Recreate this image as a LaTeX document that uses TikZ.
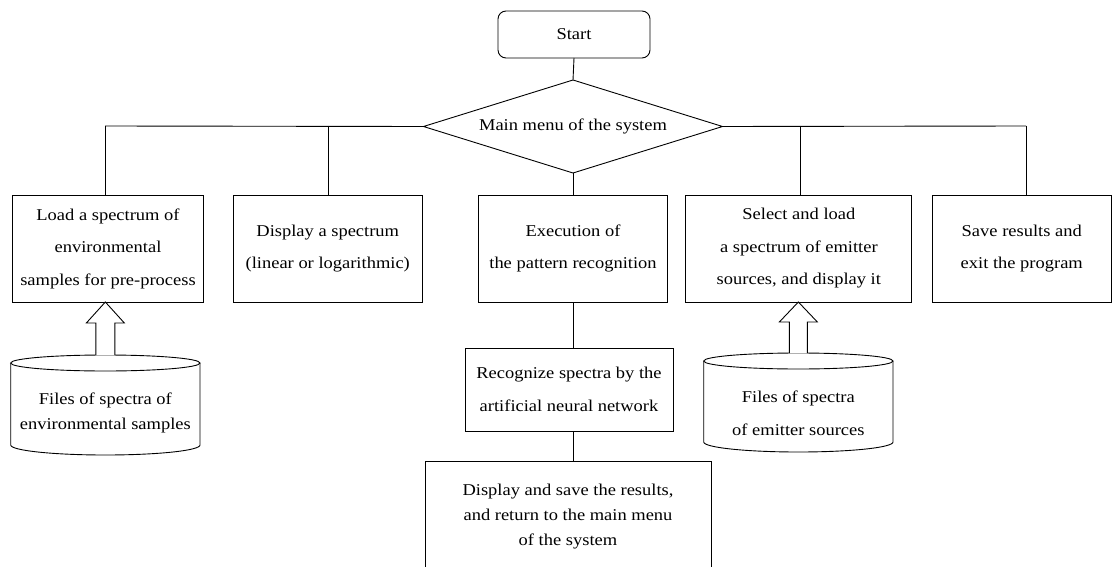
\documentclass[tikz,border=0pt]{standalone}
\usepackage{fontspec}
\setmainfont{Liberation Serif}[FakeStretch=1.12]
\usetikzlibrary{shapes.geometric,calc}
\begin{document}
\begin{tikzpicture}[x=1pt,y=-1pt,line width=0.9pt,
  every node/.style={inner sep=0pt,outer sep=0pt},
  txt/.style={font=\fontsize{16.5pt}{32.5pt}\selectfont,align=center},
  txtb/.style={font=\fontsize{16.5pt}{25pt}\selectfont,align=center},
  procbox/.style={draw,rectangle,txt,minimum height=107pt},
  startbox/.style={draw,rectangle,rounded corners=8pt,txt,minimum width=152pt,minimum height=47pt},
  menubox/.style={draw,diamond,aspect=3.2,txt,minimum width=299pt,minimum height=93pt},
  blockarrow/.style={draw,fill=white,line join=miter}]
\useasboundingbox (0,0) rectangle (1113,567);
\fill[white] (0,0) rectangle (1113,567);
\clip (0,0) rectangle (1113,567);

% nodes
\node[startbox] (start) at (574,34.5) {Start};
\node[menubox] (menu) at (573,126.5) {Main menu of the system};

\node[procbox,minimum width=191pt] (box1) at (108,248.5) {Load a spectrum of\\environmental\\samples for pre-process};
\node[procbox,minimum width=189.5pt] (box2) at (327.75,248.5) {Display a spectrum\\(linear or logarithmic)};
\node[procbox,minimum width=189pt] (box3) at (573,248.5) {Execution of\\the pattern recognition};
\node[procbox,minimum width=226pt] (box4) at (798.85,248.5) {Select and load\\a spectrum of emitter\\sources, and display it};
\node[procbox,minimum width=179.5pt] (box5) at (1021.75,248.5) {Save results and\\exit the program};

\node[draw,rectangle,txt,minimum width=208pt,minimum height=83pt] (box6) at (569,389.5) {Recognize spectra by the\\artificial neural network};
\node[draw,rectangle,txtb,minimum width=286pt,minimum height=112pt] (box7) at (568,517) {Display and save the results,\\and return to the main menu\\of the system};

% databases (cylinders)
\draw (10.7,363) -- (10.7,445) arc[start angle=180,end angle=0,x radius=94.65,y radius=10] -- (200,363);
\draw (105.35,363) ellipse[x radius=94.65,y radius=8];
\coordinate (c1top) at (105.35,355);
\node[txtb] (cyl1) at (105.35,412.5) {Files of spectra of\\environmental samples};

\draw (703.7,361) -- (703.7,442) arc[start angle=180,end angle=0,x radius=94.65,y radius=10] -- (893,361);
\draw (798.35,361) ellipse[x radius=94.65,y radius=8];
\coordinate (c2top) at (798.35,353);
\node[font=\fontsize{16.5pt}{33pt}\selectfont,align=center] (cyl2) at (798.35,413.5) {Files of spectra\\of emitter sources};

% bus taps
\coordinate (t1) at (105,126);
\coordinate (t2) at (328,126);
\coordinate (t4) at (800,126);
\coordinate (t5) at (1026,126);

% connectors
\draw (start.south) -- (menu.north);
\draw (t1) -- (menu.west);
\draw (menu.east) -- (t5);
\draw (t1) -- (t1 |- box1.north);
\draw (t2) -- (t2 |- box2.north);
\draw (menu.south) -- (box3.north);
\draw (t4) -- (t4 |- box4.north);
\draw (t5) -- (t5 |- box5.north);
\draw (box3.south) -- (box3.south |- box6.north);
\draw (box3.south |- box6.south) -- (box3.south |- box7.north);

% block arrows
\coordinate (a1tip) at (c1top |- box1.south);
\draw[blockarrow] ($(c1top)+(9.5,0)$) -- ($(a1tip)+(9.5,21)$) -- ($(a1tip)+(19,21)$) -- (a1tip)
  -- ($(a1tip)+(-19,21)$) -- ($(a1tip)+(-9.5,21)$) -- ($(c1top)+(-9.5,0)$);
\coordinate (a2tip) at (c2top |- box4.south);
\draw[blockarrow] ($(c2top)+(9,0)$) -- ($(a2tip)+(9,20)$) -- ($(a2tip)+(19,20)$) -- (a2tip)
  -- ($(a2tip)+(-19,20)$) -- ($(a2tip)+(-9,20)$) -- ($(c2top)+(-9,0)$);
\end{tikzpicture}
\end{document}
